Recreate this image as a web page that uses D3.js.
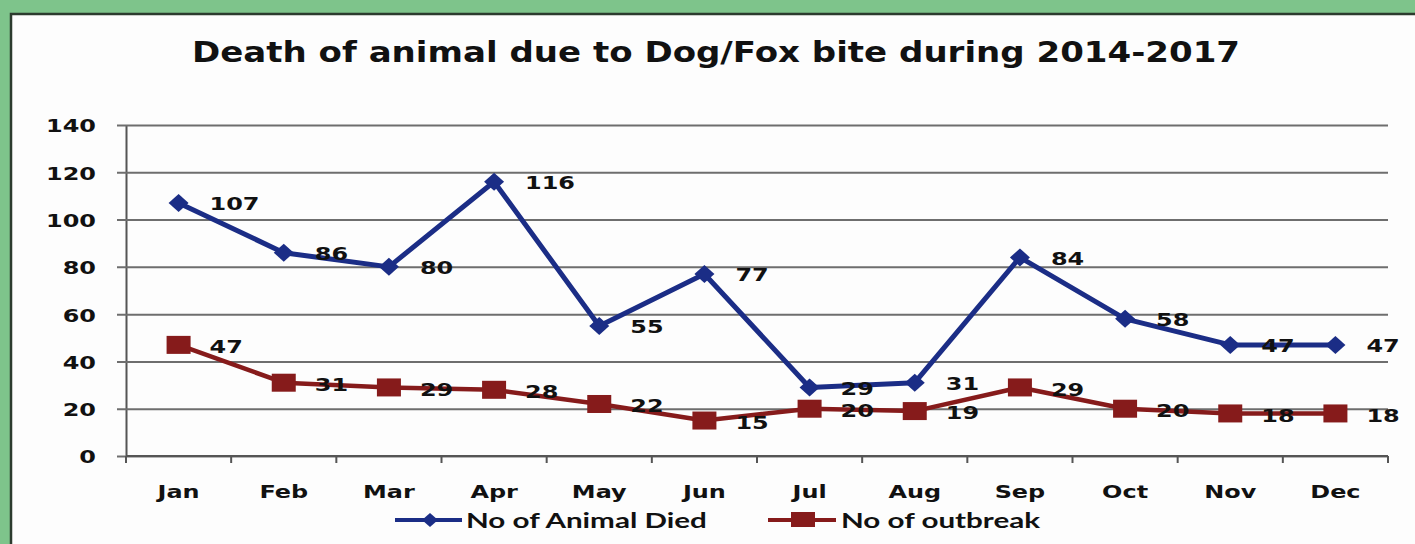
<!DOCTYPE html>
<html>
<head>
<meta charset="utf-8">
<script src="https://cdn.jsdelivr.net/npm/d3@7"></script>
<style>
  html, body { margin: 0; padding: 0; background: #7ec48b; }
  svg { display: block; }
</style>
</head>
<body>
<svg id="chart" width="1415" height="544"></svg>
<script>
// Monthly totals for 2014-2017
const months = ["Jan", "Feb", "Mar", "Apr", "May", "Jun", "Jul", "Aug", "Sep", "Oct", "Nov", "Dec"];
const animalsDied = [107, 86, 80, 116, 55, 77, 29, 31, 84, 58, 47, 47];
const outbreaks = [47, 31, 29, 28, 22, 15, 20, 19, 29, 20, 18, 18];
const yTicks = [0, 20, 40, 60, 80, 100, 120, 140];
const seriesNames = ["No of Animal Died", "No of outbreak"];

const W = 1415, H = 544;
const plot = { left: 126, right: 1388, top: 125, bottom: 456 };
const BLUE = "#1b2d86", RED = "#861b1b";
const SX = 1.33; // horizontal stretch applied to label text

const svg = d3.select("#chart");

// green surround and white panel with dark edge
svg.append("rect").attr("width", W).attr("height", H).attr("fill", "#7ec48b");
svg.append("rect").attr("x", 11).attr("y", 14).attr("width", W - 11).attr("height", H - 14)
  .attr("fill", "#fdfdfd");
svg.append("path").attr("d", `M11,${H} V14 H${W}`).attr("fill", "none")
  .attr("stroke", "#2c3b2e").attr("stroke-width", 2.5);

const x = d3.scaleBand().domain(months).range([plot.left, plot.right]);
const y = d3.scaleLinear().domain([0, 140]).range([plot.bottom, plot.top]);
const cx = m => x(m) + x.bandwidth() / 2;

function label(g, txt, px, py, opts) {
  const o = Object.assign({ anchor: "start", size: 18, sx: SX, family: "DejaVu Sans", weight: 700 }, opts || {});
  return g.append("text")
    .attr("transform", `translate(${px},${py}) scale(${o.sx},1)`)
    .attr("text-anchor", o.anchor)
    .attr("dominant-baseline", "central")
    .attr("font-family", o.family)
    .attr("font-weight", o.weight)
    .attr("font-size", o.size)
    .attr("fill", "#111")
    .text(txt);
}

// title
svg.append("text")
  .attr("x", 716).attr("y", 62)
  .attr("text-anchor", "middle")
  .attr("font-family", "DejaVu Sans").attr("font-weight", 700).attr("font-size", 29)
  .attr("textLength", 1048).attr("lengthAdjust", "spacingAndGlyphs")
  .attr("fill", "#111")
  .text("Death of animal due to Dog/Fox bite during 2014-2017");

// horizontal gridlines and y axis
const yAxis = d3.axisLeft(y).tickValues(yTicks).tickSize(-(plot.right - plot.left)).tickSizeOuter(0).tickFormat("");
const gy = svg.append("g").attr("transform", `translate(${plot.left},0)`).call(yAxis);
gy.select(".domain").attr("stroke", "#555").attr("stroke-width", 2);
gy.selectAll(".tick line").attr("stroke", "#6e6e6e").attr("stroke-width", 2).attr("x1", -9);
yTicks.forEach(t => label(svg, String(t), 96, y(t) + 1, { anchor: "end" }));

// x axis with tick marks on band edges
const gx = svg.append("g").attr("transform", `translate(0,${plot.bottom})`);
gx.append("line").attr("x1", plot.left).attr("x2", plot.right).attr("stroke", "#555").attr("stroke-width", 2);
const edges = months.map(m => x(m)).concat([plot.right]);
gx.selectAll("line.edge").data(edges).join("line").attr("class", "edge")
  .attr("x1", d => d).attr("x2", d => d).attr("y1", 0).attr("y2", 7)
  .attr("stroke", "#555").attr("stroke-width", 2);
months.forEach(m => label(svg, m, cx(m), 492, { anchor: "middle" }));

// series lines
const line = d3.line().x((d, i) => cx(months[i])).y(d => y(d));
svg.append("path").datum(animalsDied).attr("d", line)
  .attr("fill", "none").attr("stroke", BLUE).attr("stroke-width", 5).attr("stroke-linejoin", "round");
svg.append("path").datum(outbreaks).attr("d", line)
  .attr("fill", "none").attr("stroke", RED).attr("stroke-width", 4.5).attr("stroke-linejoin", "round");

const diamond = (px, py, rx, ry) => `M${px},${py - ry} L${px + rx},${py} L${px},${py + ry} L${px - rx},${py} Z`;

svg.append("g").selectAll("path").data(animalsDied).join("path")
  .attr("d", (d, i) => diamond(cx(months[i]), y(d), 10, 9))
  .attr("fill", BLUE);
svg.append("g").selectAll("rect").data(outbreaks).join("rect")
  .attr("x", (d, i) => cx(months[i]) - 12).attr("y", d => y(d) - 9)
  .attr("width", 24).attr("height", 18)
  .attr("fill", RED);

// value labels to the right of each point
const labels = svg.append("g");
animalsDied.forEach((v, i) => label(labels, String(v), cx(months[i]) + 31, y(v) + 1));
outbreaks.forEach((v, i) => label(labels, String(v), cx(months[i]) + 31, y(v) + 2));

// legend
const lg = svg.append("g");
lg.append("line").attr("x1", 395).attr("x2", 462).attr("y1", 520).attr("y2", 520)
  .attr("stroke", BLUE).attr("stroke-width", 4);
lg.append("path").attr("d", diamond(430, 520, 8, 7)).attr("fill", BLUE);
label(lg, seriesNames[0], 466, 520, { size: 20, family: "Lato", sx: 1.48 });
lg.append("line").attr("x1", 768).attr("x2", 836).attr("y1", 520).attr("y2", 520)
  .attr("stroke", RED).attr("stroke-width", 4);
lg.append("rect").attr("x", 791).attr("y", 512).attr("width", 24).attr("height", 15).attr("fill", RED);
label(lg, seriesNames[1], 841, 520, { size: 20, family: "Lato", sx: 1.48 });
</script>
</body>
</html>
